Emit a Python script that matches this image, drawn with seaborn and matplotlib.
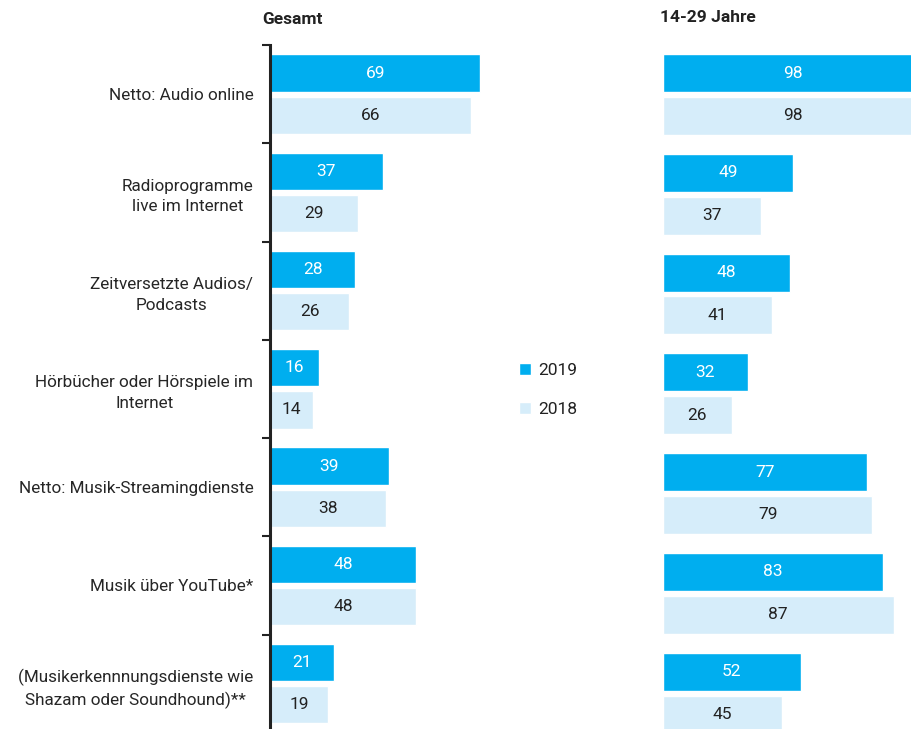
import pandas as pd
import seaborn as sns
import matplotlib.pyplot as plt

categories = ["Netto: Audio online",
              "Radioprogramme\nlive im Internet",
              "Zeitversetzte Audios/\nPodcasts",
              "Hörbücher oder Hörspiele im\nInternet",
              "Netto: Musik-Streamingdienste",
              "Musik über YouTube*",
              "(Musikerkennnungsdienste wie\nShazam oder Soundhound)**"]
years = ["2019", "2018"]
gesamt_2019 = [69, 37, 28, 16, 39, 48, 21]
gesamt_2018 = [66, 29, 26, 14, 38, 48, 19]
jung_2019 = [98, 49, 48, 32, 77, 83, 52]
jung_2018 = [98, 37, 41, 26, 79, 87, 45]

colors = {"2019": "#00AEEF", "2018": "#D6EDFA"}

def long_df(v19, v18):
    return pd.DataFrame({
        "kategorie": categories * 2,
        "jahr": ["2019"] * len(categories) + ["2018"] * len(categories),
        "wert": v19 + v18,
    })

sns.set_style("white")
plt.rcParams['font.family'] = ['Liberation Sans Narrow', 'Roboto', 'DejaVu Sans']
plt.rcParams['text.color'] = '#222222'

W, H = 912, 729
fig = plt.figure(figsize=(W / 100, H / 100), dpi=100)

# px -> figure coords
def box(x0, x1, ytop, ybot):
    return [x0 / W, 1 - ybot / H, (x1 - x0) / W, (ybot - ytop) / H]

ax1 = fig.add_axes(box(270, 575, 45, 732.75))
ax2 = fig.add_axes(box(663, 928, 44.6, 742.9))

for ax, (v19, v18) in [(ax1, (gesamt_2019, gesamt_2018)), (ax2, (jung_2019, jung_2018))]:
    sns.barplot(data=long_df(v19, v18), y="kategorie", x="wert", hue="jahr",
                hue_order=years, palette=colors, orient="h", width=0.86,
                gap=0.116, saturation=1, ax=ax, legend=(ax is ax1))
    for cont, c in zip(ax.containers, ["white", "#222222"]):
        ax.bar_label(cont, label_type="center", color=c, fontsize=12.5)
    ax.set_xlim(0, 100)
    ax.set_ylim(6.5, -0.5)
    ax.set_xlabel("")
    ax.set_ylabel("")
    ax.set_xticks([])
    for s in ["top", "right", "bottom"]:
        ax.spines[s].set_visible(False)

# left panel: spine + boundary ticks
ax1.spines["left"].set_color("#222222")
ax1.spines["left"].set_linewidth(2.2)
ax1.set_yticks(range(len(categories)))
ax1.set_yticklabels(categories, multialignment="center", fontsize=12.3,
                    linespacing=1.45)
ax1.tick_params(axis="y", which="major", left=True, length=0, pad=12)
ax1.set_yticks([i - 0.5 for i in range(len(categories) + 1)], minor=True)
ax1.tick_params(axis="y", which="minor", left=True, length=6, width=1.5,
                color="#222222")

ax2.spines["left"].set_visible(False)
ax2.set_yticks([])

handles, labels = ax1.get_legend_handles_labels()
ax1.get_legend().remove()
fig.legend(handles, labels, loc="center left", bbox_to_anchor=(510 / W, 1 - 390 / H),
           frameon=False, fontsize=12.5, handlelength=0.7, handleheight=0.7,
           handletextpad=0.4, labelspacing=1.35, borderpad=0)

fig.text(262 / W, 1 - 20 / H, "Gesamt", fontsize=12.5, fontweight="bold", va="center")
fig.text(660 / W, 1 - 18 / H, "14-29 Jahre", fontsize=12.5, fontweight="bold", va="center")

fig.savefig("out.png", dpi=100)
